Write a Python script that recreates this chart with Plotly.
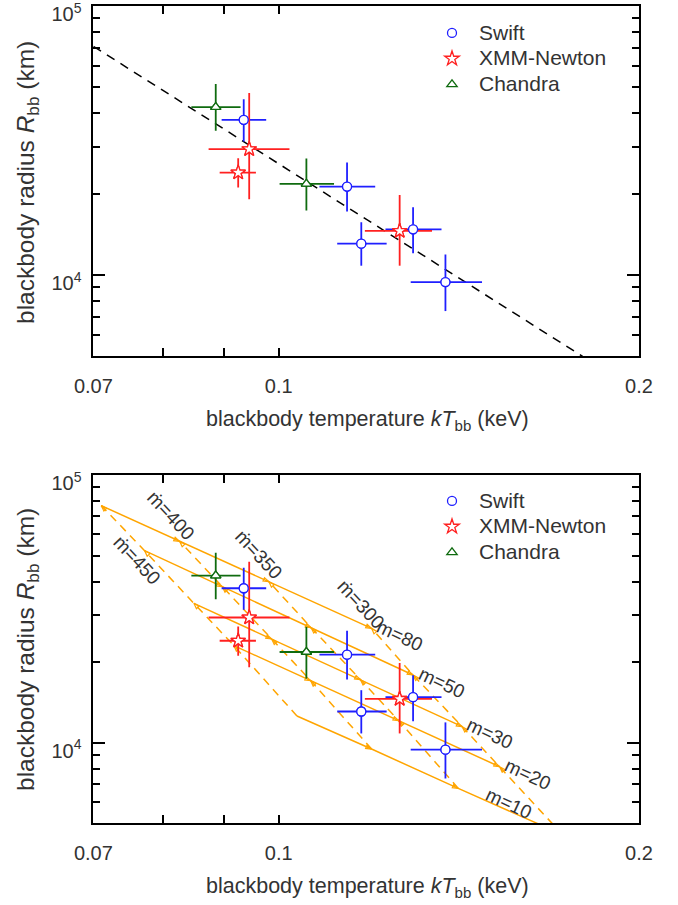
import math
import plotly.graph_objects as go

# ---------------- data ----------------
swift_T = [0.09348, 0.11404, 0.11721, 0.12949, 0.13781]
swift_T_lo = [0.08959, 0.10814, 0.11190, 0.12279, 0.12890]
swift_T_hi = [0.09761, 0.12039, 0.12307, 0.13677, 0.14786]
swift_R = [37750, 21320, 13080, 14790, 9417]
swift_R_lo = [31350, 17210, 10830, 12040, 7345]
swift_R_hi = [45060, 26190, 15710, 17860, 11910]

xmm_T = [0.09447, 0.09249, 0.12619]
xmm_T_lo = [0.08737, 0.08925, 0.11802]
xmm_T_hi = [0.10208, 0.09570, 0.13430]
xmm_R = [29360, 24040, 14580]
xmm_R_lo = [19120, 21140, 10830]
xmm_R_hi = [47450, 27180, 19850]

chandra_T = [0.08858, 0.10546]
chandra_T_lo = [0.08452, 0.10016]
chandra_T_hi = [0.09291, 0.11122]
chandra_R = [42090, 21820]
chandra_R_lo = [34360, 17360]
chandra_R_hi = [51250, 27100]

# power-law fit (dashed line, top panel)
fit_norm = 2.59e4     # R_bb at kT = 0.1 keV
fit_index = -2.82
fit_T = [0.07, 0.2]

# model grid (bottom panel): rows = m, columns = mdot
m_values = [80, 50, 30, 20, 10]
mdot_values = [450, 400, 350, 300]
grid_T = [
    [0.07107, 0.08263, 0.09813, 0.11955],
    [0.07725, 0.08972, 0.10643, 0.12949],
    [0.08493, 0.09865, 0.11703, 0.14233],
    [0.09174, 0.10635, 0.12599, 0.15297],
    [0.10356, 0.11955, 0.14125, 0.17269],
]
grid_R = [
    [76830, 56520, 39950, 26740],
    [52150, 38260, 26900, 17900],
    [33160, 24400, 17200, 11480],
    [23040, 17050, 12080, 8135],
    [12580, 9470, 6752, 4532],
]

# label positions (log10 kT, log10 R) for the grid annotations
mdot_label_pos = {450: (-1.1180, 4.6825), 400: (-1.0900, 4.8506),
                  350: (-1.0170, 4.7012), 300: (-0.9310, 4.5181)}
m_label_pos = {80: (-0.8990, 4.4023), 50: (-0.8640, 4.2267),
               30: (-0.8235, 4.0362), 20: (-0.7915, 3.8831),
               10: (-0.8075, 3.7747)}

x_ticks = [0.07, 0.1, 0.2]
x_ticktext = ["0.07", "0.1", "0.2"]
x_minor = [0.08, 0.09]
y_ticks = [1e4, 1e5]
y_ticktext = ["10<sup>4</sup>", "10<sup>5</sup>"]
y_minor = [6e3, 7e3, 8e3, 9e3, 2e4, 3e4, 4e4, 5e4, 6e4, 7e4, 8e4, 9e4]

# ---------------- styling ----------------
FONT = "Liberation Sans, Arial, Helvetica, sans-serif"
TXT = "#333333"
ORANGE = "#FFA500"
W, H = 678, 905

fig = go.Figure()


def err(v, lo, hi):
    return [h - x for x, h in zip(v, hi)], [x - l for x, l in zip(v, lo)]


series = [
    ("Swift", swift_T, swift_T_lo, swift_T_hi, swift_R, swift_R_lo, swift_R_hi,
     "#1f1fff", "circle-open", 9),
    ("XMM-Newton", xmm_T, xmm_T_lo, xmm_T_hi, xmm_R, xmm_R_lo, xmm_R_hi,
     "#ff2020", "star-open", 11),
    ("Chandra", chandra_T, chandra_T_lo, chandra_T_hi, chandra_R, chandra_R_lo, chandra_R_hi,
     "#0f6b0f", "triangle-up-open", 9),
]

# ---- bottom panel model grid ----
for i, m in enumerate(m_values):
    fig.add_trace(go.Scatter(
        x=grid_T[i], y=grid_R[i], mode="lines+markers", xaxis="x2", yaxis="y2",
        line=dict(color=ORANGE, width=1.5, backoff=0),
        marker=dict(symbol="arrow-open", angleref="previous", size=6,
                    color=ORANGE, line=dict(color=ORANGE, width=1.2)),
        showlegend=False, hoverinfo="skip"))
for j, md in enumerate(mdot_values):
    xs = [grid_T[i][j] for i in reversed(range(len(m_values)))]
    ys = [grid_R[i][j] for i in reversed(range(len(m_values)))]
    fig.add_trace(go.Scatter(
        x=xs, y=ys, mode="lines+markers", xaxis="x2", yaxis="y2",
        line=dict(color=ORANGE, width=1.5, dash="8px,6px", backoff=0),
        marker=dict(symbol="arrow-open", angleref="previous", size=6,
                    color=ORANGE, line=dict(color=ORANGE, width=1.2)),
        showlegend=False, hoverinfo="skip"))

# ---- fit line (top panel) ----
fig.add_trace(go.Scatter(
    x=fit_T, y=[fit_norm * (t / 0.1) ** fit_index for t in fit_T],
    mode="lines", line=dict(color="black", width=1.5, dash="9px,7px"),
    xaxis="x", yaxis="y", showlegend=False, hoverinfo="skip"))

# ---- data points, both panels ----
for (xa, ya, leg) in [("x", "y", "legend"), ("x2", "y2", "legend2")]:
    for name, T, Tlo, Thi, R, Rlo, Rhi, col, sym, sz in series:
        xp, xm = err(T, Tlo, Thi)
        yp, ym = err(R, Rlo, Rhi)
        fig.add_trace(go.Scatter(
            x=T, y=R, mode="markers", xaxis=xa, yaxis=ya, legend=leg,
            name=f'<span style="font-size:21px">{name}</span>',
            marker=dict(symbol=sym, size=sz, color=col, line=dict(color=col, width=1.3)),
            error_x=dict(type="data", array=xp, arrayminus=xm, color=col,
                         thickness=1.8, width=0),
            error_y=dict(type="data", array=yp, arrayminus=ym, color=col,
                         thickness=1.8, width=0),
        ))

# white-filled copies of the markers, drawn over the error bars
for (xa, ya) in [("x", "y"), ("x2", "y2")]:
    for name, T, Tlo, Thi, R, Rlo, Rhi, col, sym, sz in series:
        fig.add_trace(go.Scatter(
            x=T, y=R, mode="markers", xaxis=xa, yaxis=ya, showlegend=False,
            marker=dict(symbol=sym.replace("-open", ""), size=sz, color="white",
                        line=dict(color=col, width=1.3)),
            hoverinfo="skip"))

# ---------------- axes ----------------
xdom = [93.4 / W, 639 / W]
top_dom = [1 - 356 / H, 1 - 6 / H]
bot_dom = [1 - 823.3 / H, 1 - 475 / H]


def xaxis(anchor):
    return dict(type="log", range=[math.log10(0.07), math.log10(0.2)], domain=xdom,
                anchor=anchor, showline=True, linecolor="black", linewidth=1.8,
                mirror="ticks", ticks="inside", ticklen=8, tickwidth=1.5,
                tickcolor="black", tickvals=x_ticks, ticktext=x_ticktext,
                tickfont=dict(family=FONT, size=20, color=TXT),
                ticklabelstandoff=11, showgrid=False, zeroline=False, automargin=False,
                ticklabeloverflow="allow",
                minor=dict(tickvals=x_minor, ticks="inside", ticklen=8,
                           tickwidth=1.5, tickcolor="black", showgrid=False))


def yaxis(anchor, dom):
    return dict(type="log", range=[math.log10(5000), 5], domain=dom, anchor=anchor,
                showline=True, linecolor="black", linewidth=1.8, mirror="ticks",
                ticks="inside", ticklen=12, tickwidth=1.5, tickcolor="black",
                tickvals=y_ticks, ticktext=y_ticktext,
                tickfont=dict(family=FONT, size=20, color=TXT),
                ticklabelstandoff=6, ticklabelshift=8, ticklabeloverflow="allow",
                showgrid=False, zeroline=False, automargin=False,
                minor=dict(tickvals=y_minor, ticks="inside", ticklen=7,
                           tickwidth=1.5, tickcolor="black", showgrid=False))


annotations = []
xtitle = "blackbody temperature <i>kT</i><sub>bb</sub> (keV)"
ytitle = "blackbody radius <i>R</i><sub>bb</sub> (km)"
for yc_x, yc_y in [(421, 183), (887, 650)]:
    annotations.append(dict(text=xtitle, xref="paper", yref="paper",
                            x=367 / W, y=1 - yc_x / H, showarrow=False,
                            xanchor="center", yanchor="middle",
                            font=dict(family=FONT, size=21.5, color=TXT)))
    annotations.append(dict(text=ytitle, xref="paper", yref="paper",
                            x=27 / W, y=1 - yc_y / H, showarrow=False, textangle=-90,
                            xanchor="center", yanchor="middle",
                            font=dict(family=FONT, size=24.5, color=TXT)))

for md in mdot_values:
    lx, ly = mdot_label_pos[md]
    annotations.append(dict(text=f"ṁ={md}", xref="x2", yref="y2", x=lx, y=ly,
                            showarrow=False, textangle=47,
                            xanchor="center", yanchor="middle",
                            font=dict(family=FONT, size=19, color=TXT)))
for m in m_values:
    lx, ly = m_label_pos[m]
    annotations.append(dict(text=f"m={m}", xref="x2", yref="y2", x=lx, y=ly,
                            showarrow=False, textangle=25,
                            xanchor="center", yanchor="middle",
                            font=dict(family=FONT, size=19, color=TXT)))

legend_style = dict(font=dict(family=FONT, size=17.5, color=TXT), bgcolor="rgba(0,0,0,0)",
                    borderwidth=0, xanchor="left", yanchor="top", tracegroupgap=0,
                    itemwidth=44)

fig.update_layout(
    width=W, height=H, margin=dict(l=0, r=0, t=0, b=0, autoexpand=False),
    paper_bgcolor="white", plot_bgcolor="white",
    xaxis=xaxis("y"), yaxis=yaxis("x", top_dom),
    xaxis2=xaxis("y2"), yaxis2=yaxis("x2", bot_dom),
    legend=dict(x=425 / W, y=1 - 15 / H, **legend_style),
    legend2=dict(x=425 / W, y=1 - 483 / H, **legend_style),
    annotations=annotations,
    showlegend=True,
)

fig.write_html("out.html", config={"displayModeBar": False},
               post_script="document.body.style.margin='0';document.body.style.padding='0';")
